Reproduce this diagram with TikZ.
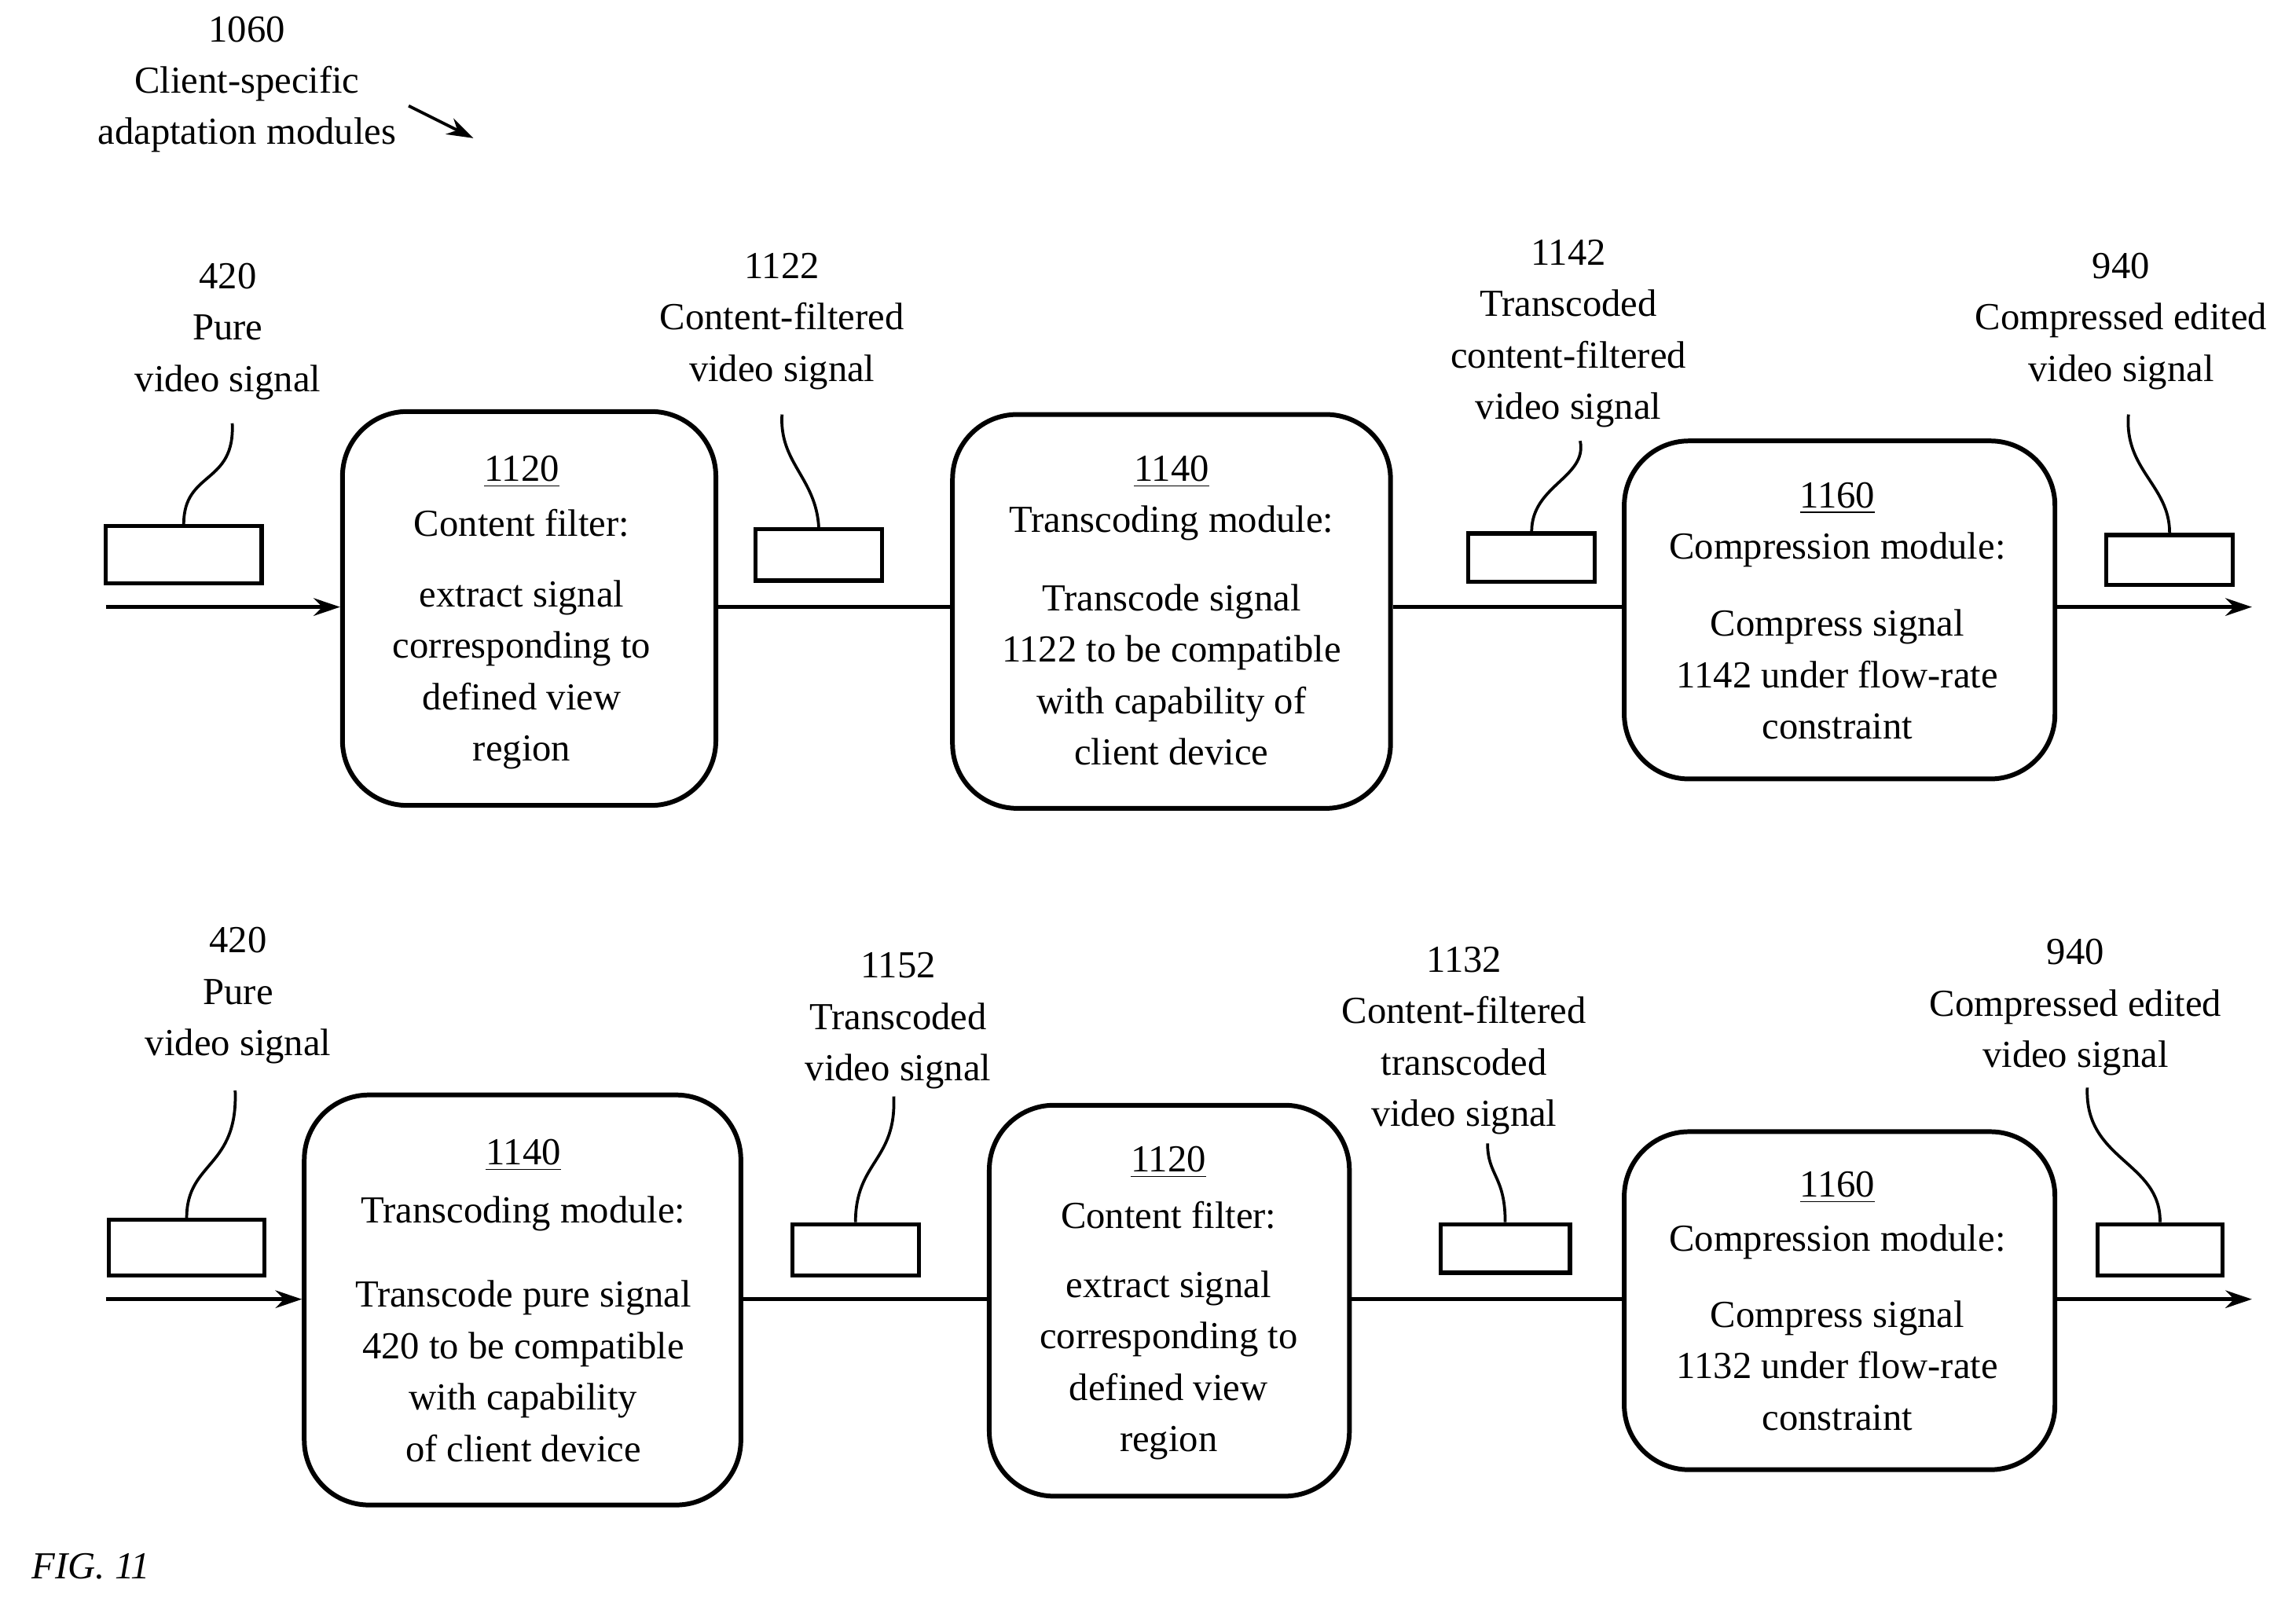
\documentclass[tikz,border=0pt]{standalone}
\usepackage{fontspec}
\setmainfont{Liberation Serif}
\usetikzlibrary{arrows.meta}
\begin{document}
\begin{tikzpicture}[x=0.5pt,y=-0.5pt,
 mod/.style={draw,line width=1.6pt,rounded corners=22pt},
 sig/.style={draw,line width=1.4pt},
 wire/.style={line width=1.3pt},
 lead/.style={line width=1pt},
 lbl/.style={font=\fontsize{13pt}{17.5pt}\selectfont,align=center,anchor=north},
 txt/.style={font=\fontsize{13pt}{17.5pt}\selectfont},
 arr/.style={-{Stealth[length=9pt,width=6pt]}}]
\useasboundingbox (0,0) rectangle (1562,1087);
\newcommand{\bx}[5]{\node[mod,minimum width=#3*1pt,minimum height=#4*1pt] (#1) at (#2) {};}
% top row
\node[mod,minimum width=127pt,minimum height=134pt] (a1) at (360,414) {};
\node[mod,minimum width=149pt,minimum height=134pt] (a2) at (797,416) {};
\node[mod,minimum width=146.5pt,minimum height=115pt] (a3) at (1251.5,415) {};
\coordinate (a0) at (72,413); \coordinate (a4) at (1532,413);
\draw[wire,arr] (a0) -- (a1.west |- a0);
\draw[wire] (a1.east |- a0) -- (a2.west |- a0);
\draw[wire] (a2.east |- a0) -- (a3.west |- a0);
\draw[wire,arr] (a3.east |- a0) -- (a4);
\node[sig,minimum width=53pt,minimum height=19.5pt,inner sep=0] (s1) at (125,377.5) {};
\node[sig,minimum width=43pt,minimum height=17.5pt,inner sep=0] (s2) at (557,377.5) {};
\node[sig,minimum width=43pt,minimum height=16.5pt,inner sep=0] (s3) at (1042,379.5) {};
\node[sig,minimum width=43pt,minimum height=17pt,inner sep=0] (s4) at (1476,381) {};
\node[lbl] (l1) at (155,172) {420\\Pure\\video signal};
\node[lbl] (l2) at (532,165) {1122\\Content-filtered\\video signal};
\node[lbl] (l3) at (1067,156) {1142\\Transcoded\\content-filtered\\video signal};
\node[lbl] (l4) at (1443,165) {940\\Compressed edited\\video signal};
\draw[lead] (s1.north) .. controls (125,320) and (160,330) .. (158,288);
\draw[lead] (s2.north) .. controls (555,325) and (530,315) .. (532,282);
\draw[lead] (s3.north) .. controls (1042,330) and (1080,325) .. (1075,300);
\draw[lead] (s4.north) .. controls (1476,330) and (1445,320) .. (1448,282);
\node[txt] (t1) at (355,321) {\underline{1120}};
\node[txt,align=center] (t1b) at (355,356) {Content filter:};
\node[txt,align=center] (t1c) at (355,459) {extract signal\\corresponding to\\defined view\\region};
\node[txt] (t2) at (797,321) {\underline{1140}};
\node[txt] (t2b) at (797,356) {Transcoding module:};
\node[txt,align=center] (t2c) at (797,459) {Transcode signal\\1122 to be compatible\\with capability of\\client device};
\node[txt] (t3) at (1250,339) {\underline{1160}};
\node[txt] (t3b) at (1250,374) {Compression module:};
\node[txt,align=center] (t3c) at (1250,459) {Compress signal\\1142 under flow-rate\\constraint};
% bottom row
\node[mod,minimum width=148.5pt,minimum height=139.5pt] (b1) at (355.5,884.5) {};
\node[mod,minimum width=122.5pt,minimum height=133pt] (b2) at (795.5,885) {};
\node[mod,minimum width=146.5pt,minimum height=115pt] (b3) at (1251.5,885) {};
\coordinate (b0) at (72,884); \coordinate (b4) at (1532,884);
\draw[wire,arr] (b0) -- (b1.west |- b0);
\draw[wire] (b1.east |- b0) -- (b2.west |- b0);
\draw[wire] (b2.east |- b0) -- (b3.west |- b0);
\draw[wire,arr] (b3.east |- b0) -- (b4);
\node[sig,minimum width=53pt,minimum height=19pt,inner sep=0] (r1) at (127,849) {};
\node[sig,minimum width=43pt,minimum height=17.5pt,inner sep=0] (r2) at (582,850.5) {};
\node[sig,minimum width=44pt,minimum height=16.5pt,inner sep=0] (r3) at (1024,849.5) {};
\node[sig,minimum width=42.5pt,minimum height=17.5pt,inner sep=0] (r4) at (1469.5,850.5) {};
\node[lbl] (m1) at (162,624) {420\\Pure\\video signal};
\node[lbl] (m2) at (611,641) {1152\\Transcoded\\video signal};
\node[lbl] (m3) at (996,637) {1132\\Content-filtered\\transcoded\\video signal};
\node[lbl] (m4) at (1412,632) {940\\Compressed edited\\video signal};
\draw[lead] (r1.north) .. controls (127,790) and (162,795) .. (160,742);
\draw[lead] (r2.north) .. controls (582,790) and (610,790) .. (608,746);
\draw[lead] (r3.north) .. controls (1024,800) and (1012,800) .. (1012,778);
\draw[lead] (r4.north) .. controls (1470,790) and (1418,790) .. (1420,740);
\node[txt] (u1) at (356,786) {\underline{1140}};
\node[txt] (u1b) at (356,826) {Transcoding module:};
\node[txt,align=center] (u1c) at (356,933) {Transcode pure signal\\420 to be compatible\\with capability\\of client device};
\node[txt] (u2) at (795,791) {\underline{1120}};
\node[txt] (u2b) at (795,827) {Content filter:};
\node[txt,align=center] (u2c) at (795,929) {extract signal\\corresponding to\\defined view\\region};
\node[txt] (u3) at (1250,808) {\underline{1160}};
\node[txt] (u3b) at (1250,845) {Compression module:};
\node[txt,align=center] (u3c) at (1250,929) {Compress signal\\1132 under flow-rate\\constraint};
% header
\node[lbl] (h) at (168,4) {1060\\Client-specific\\adaptation modules};
\coordinate (hs) at (278,72); \coordinate (he) at (322,94);
\draw[lead,arr] (hs) -- (he);
\node[txt,font=\fontsize{13pt}{16pt}\selectfont\itshape] (fig) at (62,1066) {FIG. 11};
\end{tikzpicture}
\end{document}
